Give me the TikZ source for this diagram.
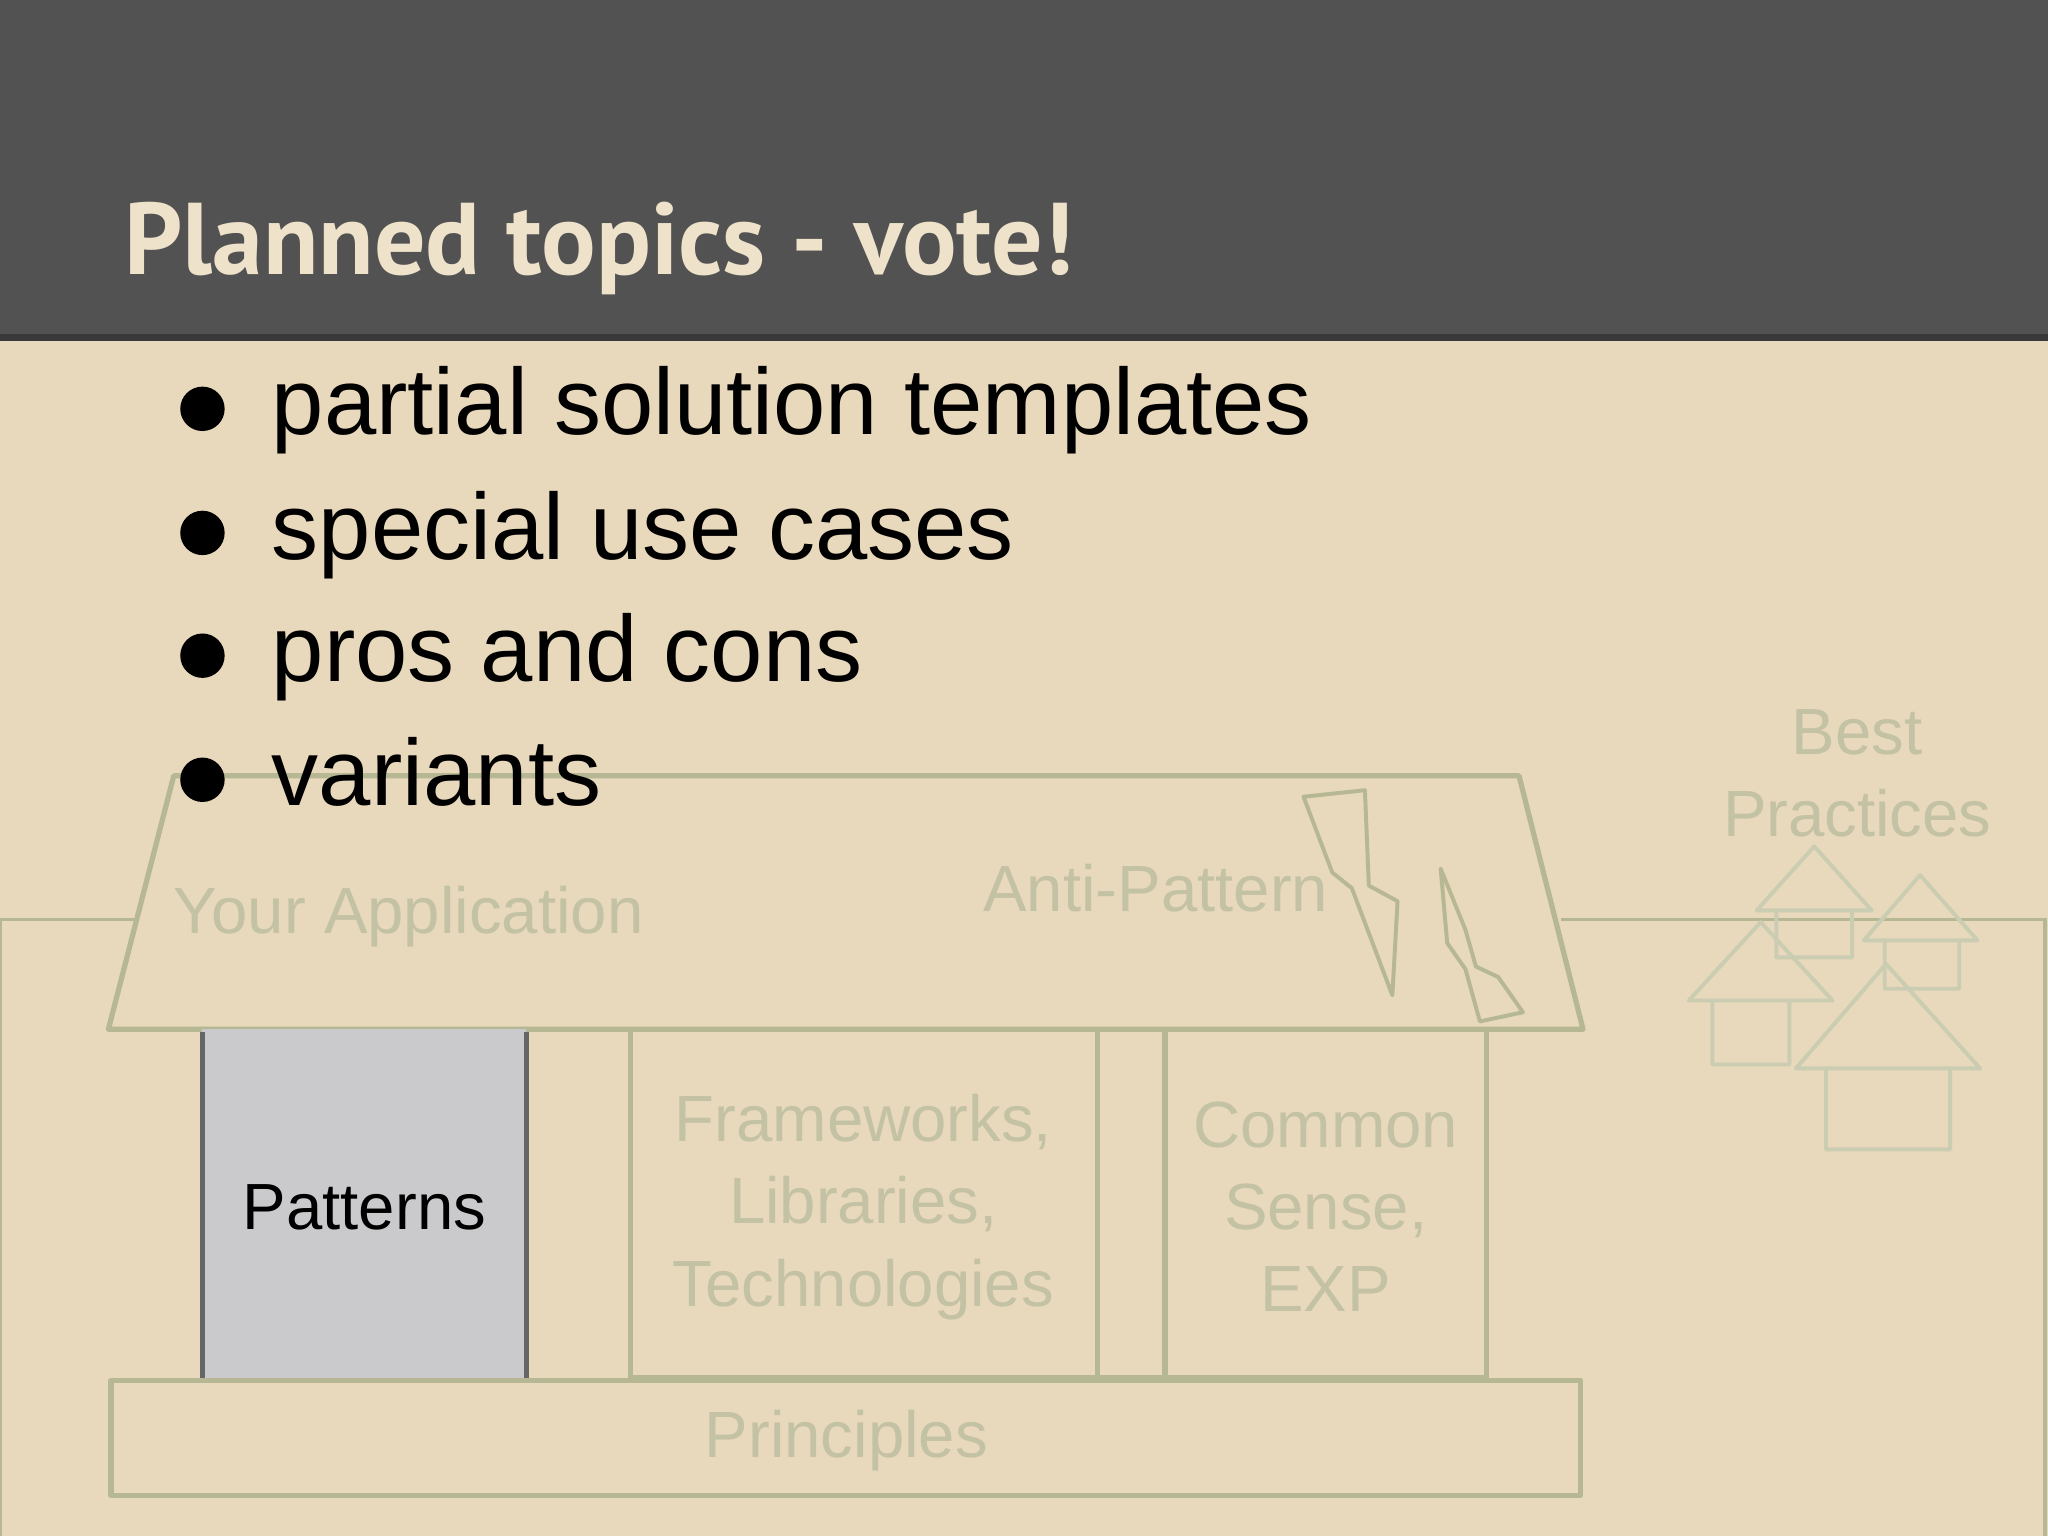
\documentclass[tikz,border=0pt]{standalone}
\usepackage{fontspec}
\setmainfont{Liberation Sans}
\newfontfamily\titlefont{PT Sans}
\begin{document}
\begin{tikzpicture}[x=1pt,y=-1pt,
  bld/.style={draw=housec,line width=4pt,line join=round},
  lt/.style={text=lightt,inner sep=0pt,font=\fontsize{50}{60}\selectfont},
  hs/.style={draw=housec!70,line width=3pt,line join=round}]
\definecolor{bg}{HTML}{E8D8BC}
\definecolor{hdr}{HTML}{525252}
\definecolor{housec}{HTML}{B5B893}
\definecolor{lightt}{HTML}{C4C2A4}
\definecolor{ttl}{HTML}{EEE2CA}
\useasboundingbox (0,0) rectangle (1568,1176);
\fill[bg] (0,0) rectangle (1568,1176);
\fill[hdr] (0,0) rectangle (1568,258);
\fill[hdr!70!black] (0,256) rectangle (1568,261);
\node[anchor=base west,text=ttl,inner sep=0pt,font=\titlefont\bfseries\fontsize{78}{90}\selectfont] (title) at (95,210) {Planned topics - vote!};
% ground lines
\draw[bld,line width=3pt] (0,1176) -- (0,704) -- (105,704);
\draw[bld,line width=3pt] (1195,704) -- (1566,704) -- (1566,1176);
% roof
\draw[bld] (133,594) -- (1163,594) -- (1212,788) -- (83,788) -- cycle;
% columns
\draw[fill=gray!30!blue!5!lightgray,draw=none] (155,788) rectangle (403,1055);
\fill[fill={rgb,255:red,202;green,202;blue,205}] (155,788) rectangle (403,1055);
\draw[line width=4pt,draw=gray!80!black] (155,790) -- (155,1055) (403,790) -- (403,1055);
\draw[bld] (483,788) rectangle (840,1055);
\draw[bld] (840,788) rectangle (892,1055);
\draw[bld] (892,788) rectangle (1138,1055);
\draw[bld] (85,1057) rectangle (1210,1145);
% bolts
\draw[bld,line width=3pt] (998,610) -- (1045,605) -- (1048,678) -- (1070,690) -- (1066,762) -- (1035,680) -- (1020,668) -- cycle;
\draw[bld,line width=3pt] (1103,665) -- (1122,712) -- (1130,740) -- (1147,748) -- (1166,775) -- (1133,782) -- (1122,742) -- (1108,722) -- cycle;
% texts
\node[lt,anchor=base west] (app) at (133,715) {Your Application};
\node[lt,anchor=base east] (anti) at (1017,698) {Anti-Pattern};
\node[inner sep=0pt,font=\fontsize{50}{60}\selectfont] (pat) at (279,924) {Patterns};
\node[lt,align=center,font=\fontsize{50}{63}\selectfont] (fw) at (661,924) {Frameworks,\\Libraries,\\Technologies};
\node[lt,align=center,font=\fontsize{50}{63}\selectfont] (cs) at (1015,924) {Common\\Sense,\\EXP};
\node[lt] (pr) at (648,1103) {Principles};
\node[lt,align=center,font=\fontsize{50}{63}\selectfont] (bp) at (1422,592) {Best\\Practices};
% houses
\draw[hs] (1345,697) -- (1389,648) -- (1433,697) -- cycle (1360,697) rectangle (1418,733);
\draw[hs] (1427,720) -- (1470,670) -- (1514,720) -- cycle (1443,720) rectangle (1500,757);
\draw[hs] (1293,766) -- (1348,706) -- (1403,766) -- cycle (1311,766) rectangle (1370,815);
\draw[hs] (1375,818) -- (1444,738) -- (1516,818) -- cycle (1398,818) rectangle (1493,880);
% bullets
\foreach \y/\t [count=\i] in {333/partial solution templates,428/special use cases,522/pros and cons,617/variants}{
  \node[anchor=base west,inner sep=0pt,font=\fontsize{72}{80}\selectfont] (b\i) at (208,\y) {\t};
  \fill (155,\y-20) circle (17);
}
\end{tikzpicture}
\end{document}
